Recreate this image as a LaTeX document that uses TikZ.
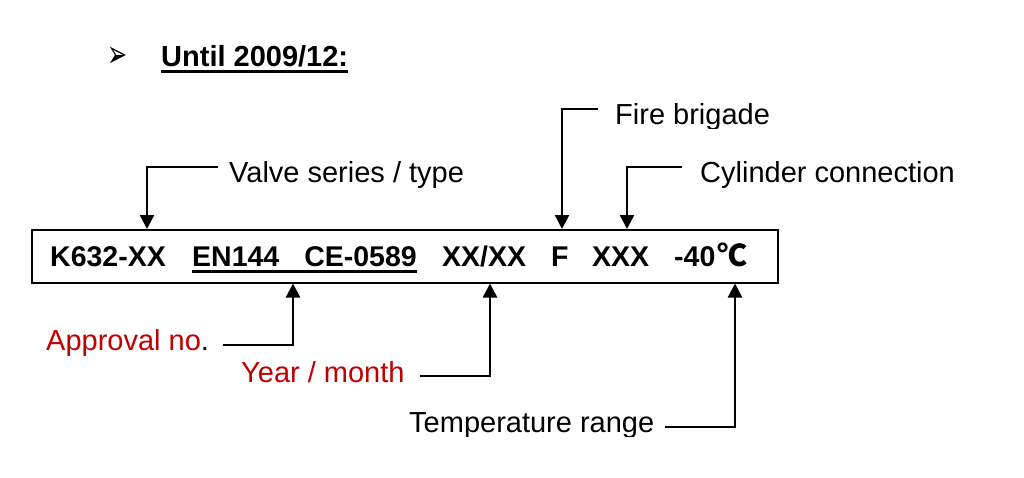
\documentclass[tikz,border=0pt]{standalone}
\usepackage{fontspec}
\setmainfont{Liberation Sans}
\newfontfamily\symfont{DejaVu Sans}
\newfontfamily\cjk{Noto Sans CJK SC}
\usetikzlibrary{arrows.meta}

\definecolor{labelred}{RGB}{192,0,0}

\tikzset{
  label text/.style={anchor=base west, inner sep=0pt, font=\fontsize{29}{32}\selectfont},
  code text/.style={anchor=base west, inner sep=0pt, text depth=5pt, font=\fontsize{28.5}{32}\selectfont\bfseries},
  pointer/.style={line width=2.4pt, -{Triangle[length=14pt,width=14pt]}},
  rule line/.style={line width=2.6pt}
}

\begin{document}
\begin{tikzpicture}[x=1pt, y=-1pt]

\useasboundingbox (0,0) rectangle (1024,477);

% heading
\node (bullet) [label text, font=\fontsize{24}{28}\symfont, yscale=1.6, transform shape] at (107,67) {➢};
\node (heading) [code text, font=\fontsize{29}{32}\selectfont\bfseries] at (161,66) {Until 2009/12:};
\draw[rule line] (heading.south west) -- (heading.south east);

% code box
\node (box) [draw, line width=1.5pt, minimum width=746pt, minimum height=53pt, inner sep=0pt, anchor=north west] at (31,229) {};

\node (series) [code text] at (50,266) {K632-XX};
\node (approval) [code text] at (192,266) {EN144\hspace{25pt}CE-0589};
\node (date) [code text] at (442,266) {XX/XX};
\node (fire) [code text] at (551,266) {F};
\node (connection) [code text] at (592,266) {XXX};
\node (temp) [code text] at (674,266) {-40};
\node (degree) [code text, font=\fontsize{30}{32}\cjk\bfseries] at (717,266) {℃};
\draw[rule line] (approval.south west) -- (approval.south east);

% labels
\node (lseries) [label text] at (229,182) {Valve series / type};
\begin{scope}
  \clip (600,90) rectangle (790,128);
  \node (lfire) [label text] at (615,124) {Fire brigade};
\end{scope}
\node (lconnection) [label text] at (700,182) {Cylinder connection};
\node (lapproval) [label text, text=labelred] at (46,350) {Approval no\textcolor{black}{.}};
\node (ldate) [label text, text=labelred] at (241,382) {Year / month};
\begin{scope}
  \clip (400,400) rectangle (660,436);
  \node (ltemp) [label text] at (409,432) {Temperature range};
\end{scope}

% connector starts and ends
\coordinate (sstart) at (218,167);
\coordinate (fstart) at (598,109);
\coordinate (cstart) at (682,167);
\coordinate (astart) at (223,345);
\coordinate (dstart) at (420,376);
\coordinate (tstart) at (665,427);

\draw[pointer] (sstart) -| (box.north -| 147,0);
\draw[pointer] (fstart) -| (box.north -| 562,0);
\draw[pointer] (cstart) -| (box.north -| 627,0);
\draw[pointer] (astart) -| (box.south -| 293,0);
\draw[pointer] (dstart) -| (box.south -| 490,0);
\draw[pointer] (tstart) -| (box.south -| 735,0);

\end{tikzpicture}
\end{document}
